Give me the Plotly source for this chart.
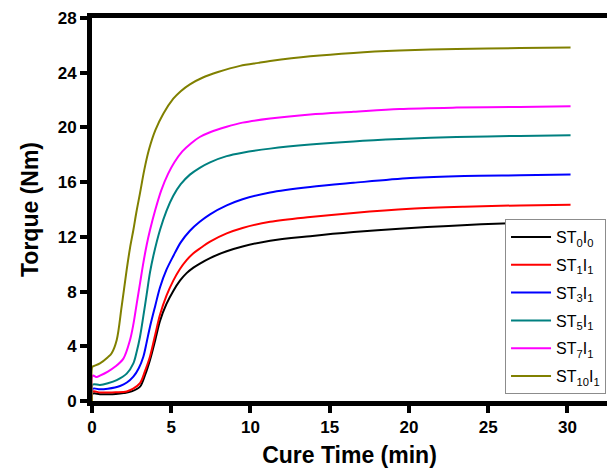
import plotly.graph_objects as go

# Rheometer cure curves: torque vs cure time for each compound
t_st0i0 = [0, 0.05, 0.5, 1.0, 1.5, 2.0, 2.5, 3.03, 3.35, 3.66, 4.0, 4.29, 4.7, 5.13, 5.55, 5.97,
           6.4, 6.81, 7.45, 8.5, 9.5, 11.24, 13.77, 16.5, 19.4, 22.5, 26.4, 30.2]
v_st0i0 = [0, 0.55, 0.5, 0.5, 0.52, 0.58, 0.7, 1.05, 1.9, 3.0, 4.5, 5.85, 7.1, 8.05, 8.8, 9.35,
           9.75, 10.05, 10.45, 10.95, 11.3, 11.72, 12.05, 12.35, 12.6, 12.8, 13.0, 13.1]

t_st1i1 = [0, 0.05, 0.5, 1.0, 1.5, 2.19, 2.6, 3.03, 3.35, 3.66, 4.0, 4.29, 4.7, 5.13, 5.55, 5.97,
           6.4, 6.81, 7.45, 8.5, 9.5, 11.24, 13.77, 16.5, 20.1, 23.5, 27, 30.2]
v_st1i1 = [0, 0.7, 0.62, 0.62, 0.64, 0.7, 0.9, 1.3, 2.2, 3.25, 4.9, 6.3, 7.7, 8.8, 9.65, 10.3,
           10.8, 11.15, 11.65, 12.25, 12.65, 13.1, 13.45, 13.75, 14.05, 14.2, 14.3, 14.35]

t_st3i1 = [0, 0.05, 0.5, 1.0, 1.77, 2.2, 2.61, 2.95, 3.24, 3.45, 3.66, 4.0, 4.29, 4.7, 5.13, 5.6,
           6.18, 6.8, 7.45, 8.5, 9.5, 11.24, 13.77, 16.5, 20.1, 23.5, 27, 30.2]
v_st3i1 = [0, 0.9, 0.85, 0.9, 1.1, 1.35, 1.78, 2.4, 3.24, 4.3, 5.43, 7.0, 8.3, 9.6, 10.6, 11.6,
           12.45, 13.1, 13.65, 14.3, 14.75, 15.25, 15.65, 15.95, 16.3, 16.45, 16.5, 16.55]

t_st5i1 = [0, 0.05, 0.5, 1.0, 1.56, 2.19, 2.61, 2.82, 3.03, 3.24, 3.45, 3.66, 3.87, 4.29, 4.7,
           5.13, 5.6, 6.18, 6.8, 7.45, 8.5, 9.5, 11.24, 13.77, 16.5, 19.4, 23, 27, 30.2]
v_st5i1 = [0, 1.2, 1.17, 1.3, 1.53, 2.0, 2.75, 3.6, 4.7, 6.2, 7.8, 9.4, 10.6, 12.5, 13.9,
           15.0, 15.85, 16.55, 17.05, 17.45, 17.9, 18.15, 18.45, 18.75, 18.98, 19.15, 19.3, 19.38, 19.42]

t_st7i1 = [0, 0.05, 0.3, 0.5, 1.0, 1.45, 1.98, 2.4, 2.61, 2.82, 3.03, 3.24, 3.45, 3.66, 4.0, 4.37,
           4.8, 5.2, 5.7, 6.26, 6.8, 7.45, 8.5, 9.5, 11.24, 13.77, 16.5, 19.4, 23, 27, 30.2]
v_st7i1 = [0, 1.85, 1.75, 1.85, 2.15, 2.5, 3.1, 4.46, 5.6, 7.1, 8.6, 10.1, 11.4, 12.5, 14.0, 15.4,
           16.6, 17.45, 18.25, 18.85, 19.3, 19.65, 20.05, 20.35, 20.65, 20.95, 21.15, 21.35, 21.45, 21.5, 21.55]

t_st10i1 = [0, 0.02, 0.1, 0.5, 1.0, 1.24, 1.56, 1.87, 2.19, 2.4, 2.61, 2.8, 3.03, 3.3, 3.6, 4.0,
            4.5, 5.13, 5.6, 6.18, 7.0, 7.95, 9.34, 10.5, 11.24, 13.77, 16.5, 19.4, 23, 27, 30.2]
v_st10i1 = [0, 2.5, 2.55, 2.75, 3.2, 3.49, 4.46, 6.9, 9.6, 11.2, 12.5, 13.8, 15.2, 16.9, 18.4, 19.8,
            21.0, 22.1, 22.65, 23.15, 23.65, 24.05, 24.5, 24.72, 24.85, 25.2, 25.45, 25.62, 25.74, 25.8, 25.85]

series_names = ["ST<sub>0</sub>I<sub>0</sub>", "ST<sub>1</sub>I<sub>1</sub>", "ST<sub>3</sub>I<sub>1</sub>",
                "ST<sub>5</sub>I<sub>1</sub>", "ST<sub>7</sub>I<sub>1</sub>", "ST<sub>10</sub>I<sub>1</sub>"]
series_colors = ["#000000", "#FF0000", "#0000FF", "#008080", "#FF00FF", "#808000"]
series_t = [t_st0i0, t_st1i1, t_st3i1, t_st5i1, t_st7i1, t_st10i1]
series_v = [v_st0i0, v_st1i1, v_st3i1, v_st5i1, v_st7i1, v_st10i1]

x_ticks = [0, 5, 10, 15, 20, 25, 30]
y_ticks = [0, 4, 8, 12, 16, 20, 24, 28]

fig = go.Figure()
for name, color, t, v in zip(series_names, series_colors, series_t, series_v):
    fig.add_trace(go.Scatter(
        x=t, y=v, mode="lines", name=name, legendgroup=name,
        line=dict(color=color, width=2, shape="spline", smoothing=0.9),
    ))

axis_font = dict(family="Liberation Sans, Arial, sans-serif", size=17, color="#000000", weight="bold")
title_font = dict(family="Liberation Sans, Arial, sans-serif", size=23, color="#000000", weight="bold")

fig.update_layout(
    width=607, height=469,
    margin=dict(l=92, r=0, t=18, b=68, autoexpand=False),
    paper_bgcolor="white", plot_bgcolor="white",
    showlegend=True,
    legend=dict(
        x=0.802, y=0.475, xanchor="left", yanchor="top",
        bgcolor="white", bordercolor="#8c8c8c", borderwidth=1,
        font=dict(family="Liberation Sans, Arial, sans-serif", size=16, color="#000000"),
        tracegroupgap=4, itemwidth=40,
    ),
    xaxis=dict(
        range=[0, 32.5], tickvals=x_ticks, ticks="outside", ticklen=7, tickwidth=4,
        tickcolor="black", showline=True, linewidth=5, linecolor="black", mirror=True,
        showgrid=False, zeroline=False, tickfont=axis_font,
        title=dict(text="Cure Time (min)", font=title_font, standoff=12),
    ),
    yaxis=dict(
        range=[0, 28], tickvals=y_ticks, ticks="outside", ticklen=7, tickwidth=4,
        tickcolor="black", showline=True, linewidth=5, linecolor="black",
        showgrid=False, zeroline=False, tickfont=axis_font,
        title=dict(text="Torque (Nm)", font=title_font, standoff=14),
    ),
)

fig.write_html("out.html")
